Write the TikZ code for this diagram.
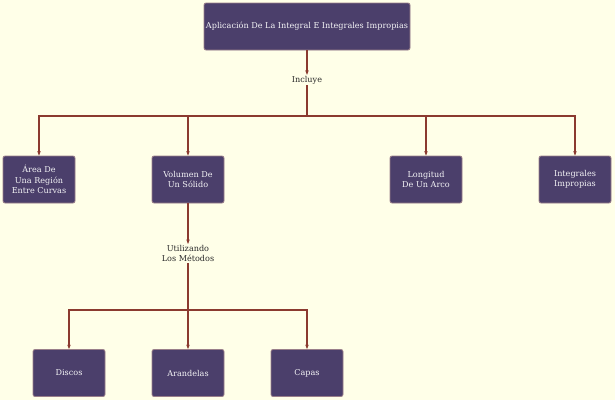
\documentclass[tikz,border=0pt]{standalone}
\usepackage{fontspec}
\setmainfont{DejaVu Serif}
\usetikzlibrary{arrows.meta}
\definecolor{bgc}{HTML}{FFFFE8}
\definecolor{boxc}{HTML}{4B3F6B}
\definecolor{boxb}{HTML}{9A7F8A}
\definecolor{linec}{HTML}{8B3A2F}
\definecolor{txtc}{HTML}{2A2A2A}
\tikzset{
  box/.style={draw=boxb, line width=0.8pt, fill=boxc, rounded corners=2pt, text=white!94!boxc,
    minimum width=72pt, minimum height=47pt, align=center, inner sep=1pt,
    font=\fontsize{8.1pt}{10.5pt}\selectfont},
  lbl/.style={text=txtc, align=center, inner sep=1pt, font=\fontsize{8.1pt}{10.5pt}\selectfont},
  conn/.style={draw=linec, line width=1.1pt},
  arr/.style={conn, -{Stealth[length=4.5pt,width=3.5pt]}}
}
\begin{document}
\begin{tikzpicture}[x=1pt,y=-1pt]
\fill[bgc] (0,0) rectangle (615,400);
\useasboundingbox (0,0) rectangle (615,400);
\node[box, minimum width=206pt] (top) at (307,26.5) {Aplicación De La Integral E Integrales Impropias};
\node[lbl] (incl) at (307,80) {Incluye};
\node[box] (area) at (39,179.5) {Área De\\Una Región\\Entre Curvas};
\node[box] (vol) at (188,179.5) {Volumen De\\Un Sólido};
\node[box] (lon) at (426,179.5) {Longitud\\De Un Arco};
\node[box] (imp) at (575,179.5) {Integrales\\Impropias};
\node[lbl] (uti) at (188,253.5) {Utilizando\\Los Métodos};
\node[box] (dis) at (69,373) {Discos};
\node[box] (ara) at (188,373) {Arandelas};
\node[box] (cap) at (307,373) {Capas};
\coordinate (j1) at (307,116);
\coordinate (j2) at (188,310);
\draw[arr] (top) -- (incl);
\draw[conn] (incl) -- (j1);
\draw[arr] (j1) -| (area);
\draw[arr] (j1) -| (vol);
\draw[arr] (j1) -| (lon);
\draw[arr] (j1) -| (imp);
\draw[arr] (vol) -- (uti);
\draw[conn] (uti) -- (j2);
\draw[arr] (j2) -| (dis);
\draw[arr] (j2) -- (ara);
\draw[arr] (j2) -| (cap);
\end{tikzpicture}
\end{document}
